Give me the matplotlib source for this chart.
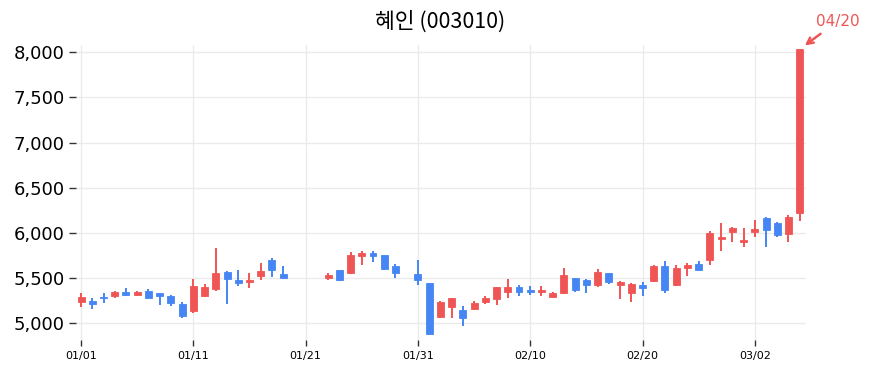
import matplotlib
matplotlib.use("Agg")
import matplotlib.pyplot as plt
import matplotlib.dates as mdates
import pandas as pd
import numpy as np

plt.rcParams['font.family'] = ['DejaVu Sans', 'Noto Sans CJK KR']

dates = ["2023-01-01","2023-01-02","2023-01-03","2023-01-04","2023-01-05","2023-01-06","2023-01-07",
         "2023-01-08","2023-01-09","2023-01-10","2023-01-11","2023-01-12","2023-01-13","2023-01-14",
         "2023-01-15","2023-01-16","2023-01-17","2023-01-18","2023-01-19",
         "2023-01-23","2023-01-24","2023-01-25","2023-01-26","2023-01-27","2023-01-28","2023-01-29",
         "2023-01-31","2023-02-01","2023-02-02","2023-02-03","2023-02-04","2023-02-05","2023-02-06",
         "2023-02-07","2023-02-08","2023-02-09","2023-02-10","2023-02-11","2023-02-12","2023-02-13",
         "2023-02-14","2023-02-15","2023-02-16","2023-02-17","2023-02-18","2023-02-19","2023-02-20",
         "2023-02-21","2023-02-22","2023-02-23","2023-02-24","2023-02-25","2023-02-26","2023-02-27",
         "2023-02-28","2023-03-01","2023-03-02","2023-03-03","2023-03-04","2023-03-05","2023-03-06"]
opens  = [5240,5250,5285,5300,5345,5310,5360,5330,5300,5210,5140,5305,5380,5570,5480,5455,5518,5700,5545,
          5500,5585,5555,5745,5780,5755,5635,
          5545,5445,5065,5185,5145,5157,5240,5270,5345,5400,5365,5350,5295,5330,5500,5480,5425,5555,
          5422,5340,5425,5465,5635,5420,5610,5658,5695,5935,6005,5895,6005,6170,6115,5985,6220]
closes = [5295,5215,5275,5345,5310,5345,5280,5305,5230,5080,5415,5405,5560,5490,5450,5480,5580,5595,5500,
          5535,5475,5755,5780,5745,5600,5555,
          5480,4885,5240,5275,5055,5223,5275,5400,5400,5345,5350,5370,5340,5535,5370,5420,5565,5460,
          5455,5435,5390,5635,5370,5610,5640,5592,6000,5955,6050,5925,6045,6035,5980,6180,8040]
highs  = [5330,5285,5330,5360,5385,5360,5375,5340,5310,5240,5490,5440,5830,5575,5585,5555,5665,5720,5635,
          5555,5590,5785,5795,5795,5760,5655,
          5700,5450,5250,5285,5195,5245,5305,5405,5485,5425,5410,5410,5350,5610,5505,5490,5605,5560,
          5465,5445,5455,5640,5685,5640,5665,5690,6025,6105,6070,6055,6140,6175,6120,6195,8040]
lows   = [5185,5160,5225,5285,5300,5297,5270,5200,5190,5055,5110,5295,5360,5210,5415,5390,5480,5510,5500,
          5475,5465,5545,5640,5680,5590,5500,
          5425,4880,5060,5055,4970,5150,5210,5205,5285,5305,5315,5300,5290,5325,5350,5330,5405,5435,
          5265,5240,5300,5455,5330,5410,5520,5585,5650,5795,5900,5840,5960,5845,5960,5900,6135]

title = "혜인 (003010)"
annot_label = "04/20"
xtick_labels = ["01/01","01/11","01/21","01/31","02/10","02/20","03/02"]
ytick_values = [5000,5500,6000,6500,7000,7500,8000]

up_color = "#f05556"
down_color = "#4586f4"

fig = plt.figure(figsize=(8.72, 3.73), dpi=100)
W, H = 872, 373
ax = fig.add_axes([76/W, 1-340/H, (806-76)/W, (340-45)/H])

x = mdates.date2num(pd.to_datetime(dates))
o = np.array(opens); c = np.array(closes); h = np.array(highs); l = np.array(lows)
width = 0.62
for xi, oi, ci, hi, li in zip(x, o, c, h, l):
    col = up_color if ci >= oi else down_color
    ax.vlines(xi, li, hi, color=col, linewidth=1.4, zorder=2)
    bot = min(oi, ci); ht = max(abs(ci-oi), 12)
    ax.bar(xi, ht, width=width, bottom=bot, color=col, edgecolor=col, linewidth=0.6, zorder=3)

x0 = mdates.date2num(pd.Timestamp("2023-01-01"))
ax.set_xlim(x0-0.45, x0+64.56)
ax.set_ylim(4815, 8080)
xt = [mdates.date2num(pd.Timestamp("2023-" + s.replace("/", "-"))) for s in xtick_labels]
ax.set_xticks(xt)
ax.set_xticklabels(xtick_labels, fontsize=8)
ax.set_yticks(ytick_values)
ax.set_yticklabels([f"{v:,}" for v in ytick_values], fontsize=13)
ax.grid(True, color="#ebebeb", linewidth=1)
ax.set_axisbelow(True)
for s in ax.spines.values():
    s.set_visible(False)
ax.tick_params(axis='y', length=5, width=1, color="#333333", pad=3)
ax.tick_params(axis='x', length=4, width=1, color="#333333", pad=4)

ax.annotate(annot_label, xy=(x[-1]+0.45, 8075), xytext=(x0+67.4, 8262),
            color=up_color, fontsize=11, ha="center", va="bottom",
            arrowprops=dict(arrowstyle="->", color=up_color, lw=1.8,
                            shrinkA=3, shrinkB=0),
            annotation_clip=False)

fig.text(440/W, 1-22/H, title, ha="center", va="center", fontsize=15.5,
         family=['Noto Sans CJK KR', 'DejaVu Sans'])
fig.savefig("out.png", dpi=100)
